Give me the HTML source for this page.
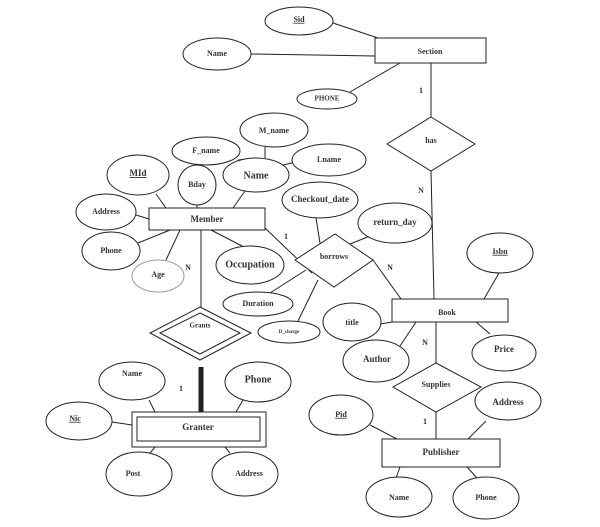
<!DOCTYPE html>
<html><head><meta charset="utf-8"><style>
html,body{margin:0;padding:0;background:#fff;}
svg{display:block;}
text{font-family:"Liberation Serif",serif;font-weight:bold;fill:#333;text-anchor:middle;dominant-baseline:middle;}
</style></head><body>
<svg width="600" height="527" viewBox="0 0 600 527" xmlns="http://www.w3.org/2000/svg">
<g stroke="#222" stroke-width="1" fill="none">
<line x1="333" y1="23" x2="378" y2="38"/>
<line x1="251" y1="54" x2="375" y2="56"/>
<line x1="400" y1="63" x2="350" y2="92"/>
<line x1="431" y1="63" x2="431" y2="117"/>
<line x1="431" y1="171" x2="434" y2="299"/>
<line x1="156" y1="194" x2="166" y2="208"/>
<line x1="197" y1="205" x2="197" y2="208"/>
<line x1="245" y1="191" x2="233" y2="208"/>
<line x1="238" y1="160" x2="258" y2="158"/>
<line x1="265" y1="147" x2="265" y2="158"/>
<line x1="292" y1="163" x2="283" y2="165"/>
<line x1="136" y1="215" x2="149" y2="219"/>
<line x1="138" y1="243" x2="170" y2="230"/>
<line x1="166" y1="260" x2="180" y2="230"/>
<line x1="211" y1="230" x2="244" y2="247"/>
<line x1="201" y1="230" x2="201" y2="307"/>
<line x1="265" y1="228" x2="312" y2="273"/>
<line x1="316" y1="218" x2="320" y2="243"/>
<line x1="350" y1="244" x2="370" y2="236"/>
<line x1="306" y1="270" x2="270" y2="293"/>
<line x1="318" y1="280" x2="298" y2="321"/>
<line x1="373" y1="260" x2="401" y2="299"/>
<line x1="499" y1="273" x2="484" y2="299"/>
<line x1="380" y1="324" x2="392" y2="322"/>
<line x1="416" y1="322" x2="400" y2="346"/>
<line x1="476" y1="322" x2="490" y2="334"/>
<line x1="436" y1="322" x2="436" y2="363"/>
<line x1="436" y1="412" x2="436" y2="439"/>
<line x1="370" y1="425" x2="397" y2="439"/>
<line x1="486" y1="421" x2="468" y2="439"/>
<line x1="400" y1="467" x2="396" y2="478"/>
<line x1="467" y1="467" x2="477" y2="478"/>
<line x1="149" y1="400" x2="155" y2="412"/>
<line x1="243" y1="400" x2="236" y2="412"/>
<line x1="112" y1="422" x2="132" y2="425"/>
<line x1="155" y1="447" x2="150" y2="453"/>
<line x1="225" y1="447" x2="230" y2="453"/>
<line x1="201" y1="367" x2="201" y2="412" stroke-width="5"/>
<g fill="#fff">
<ellipse cx="299" cy="21" rx="34" ry="14"/>
<ellipse cx="217" cy="54" rx="34" ry="16"/>
<ellipse cx="327" cy="99" rx="30" ry="10"/>
<ellipse cx="274" cy="130" rx="34" ry="17"/>
<ellipse cx="206" cy="151" rx="34" ry="14"/>
<ellipse cx="329" cy="160" rx="37" ry="16"/>
<ellipse cx="256" cy="175" rx="33" ry="17"/>
<ellipse cx="197" cy="185" rx="19" ry="20"/>
<ellipse cx="138" cy="175" rx="31" ry="20"/>
<ellipse cx="106" cy="212" rx="30" ry="18"/>
<ellipse cx="111" cy="251" rx="29" ry="19"/>
<ellipse cx="158" cy="276" rx="26" ry="16" stroke="#999"/>
<ellipse cx="250" cy="265" rx="34" ry="19"/>
<ellipse cx="320" cy="200" rx="38" ry="18"/>
<ellipse cx="395" cy="223" rx="37" ry="20"/>
<ellipse cx="258" cy="304" rx="35" ry="12"/>
<ellipse cx="289" cy="332" rx="31" ry="11"/>
<ellipse cx="500" cy="253" rx="33" ry="20"/>
<ellipse cx="352" cy="322" rx="29" ry="19"/>
<ellipse cx="376" cy="361" rx="33" ry="21"/>
<ellipse cx="504" cy="353" rx="32" ry="18"/>
<ellipse cx="508" cy="401" rx="33" ry="19"/>
<ellipse cx="341" cy="415" rx="32" ry="20"/>
<ellipse cx="399" cy="497" rx="33" ry="20"/>
<ellipse cx="486" cy="498" rx="33" ry="21"/>
<ellipse cx="132" cy="381" rx="33" ry="19"/>
<ellipse cx="258" cy="382" rx="33" ry="20"/>
<ellipse cx="79" cy="421" rx="33" ry="19"/>
<ellipse cx="139" cy="474" rx="33" ry="22"/>
<ellipse cx="245" cy="474" rx="33" ry="22"/>
<rect x="375" y="38" width="111" height="25"/>
<rect x="149" y="208" width="116" height="22"/>
<rect x="392" y="299" width="116" height="23"/>
<rect x="382" y="439" width="118" height="28"/>
<rect x="132" y="412" width="134" height="35"/>
<rect x="137" y="417" width="123" height="24"/>
<polygon points="431,117 475,144 431,171 387,144"/>
<polygon points="335,234 373,260 334,287 295,260"/>
<polygon points="436,363 481,387 436,412 393,387"/>
<polygon points="200,307 251,333 200,360 150,333"/>
<polygon points="200,313 240,333 200,354 160,333"/>
</g>
</g>
<g font-size="8">
<text x="299" y="20" text-decoration="underline">Sid</text>
<text x="217" y="54" font-weight="normal">Name</text>
<text x="327" y="99" font-family="Liberation Sans" font-size="7">PHONE</text>
<text x="430" y="52">Section</text>
<text x="421" y="91">1</text>
<text x="431" y="141">has</text>
<text x="421" y="191">N</text>
<text x="274" y="131">M_name</text>
<text x="206" y="151">F_name</text>
<text x="329" y="160">Lname</text>
<text x="256" y="176" font-size="10" font-weight="normal">Name</text>
<text x="197" y="185">Bday</text>
<text x="138" y="174" font-size="9" text-decoration="underline">MId</text>
<text x="106" y="212">Address</text>
<text x="207" y="220" font-size="9">Member</text>
<text x="111" y="251">Phone</text>
<text x="158" y="275" font-family="Liberation Sans" font-size="8">Age</text>
<text x="250" y="265" font-size="10" font-weight="normal">Occupation</text>
<text x="320" y="200" font-size="9">Checkout_date</text>
<text x="395" y="223" font-size="9">return_day</text>
<text x="334" y="257">borrows</text>
<text x="286" y="237">1</text>
<text x="390" y="268">N</text>
<text x="188" y="268">N</text>
<text x="258" y="304" font-family="Liberation Sans">Duration</text>
<text x="289" y="332" font-size="5" font-family="Liberation Sans">D_charge</text>
<text x="500" y="252" text-decoration="underline">Isbn</text>
<text x="352" y="323">title</text>
<text x="447" y="313">Book</text>
<text x="377" y="360" font-size="9">Author</text>
<text x="504" y="350" font-size="9">Price</text>
<text x="436" y="385">Supplies</text>
<text x="425" y="343">N</text>
<text x="425" y="422">1</text>
<text x="508" y="403" font-size="9">Address</text>
<text x="341" y="415" text-decoration="underline">Pid</text>
<text x="441" y="453" font-size="9">Publisher</text>
<text x="399" y="498">Name</text>
<text x="486" y="498">Phone</text>
<text x="200" y="326" font-size="7">Grants</text>
<text x="181" y="389">1</text>
<text x="132" y="374">Name</text>
<text x="258" y="380" font-size="10" font-weight="normal">Phone</text>
<text x="75" y="419" text-decoration="underline" font-weight="normal">Nic</text>
<text x="198" y="428" font-size="9">Granter</text>
<text x="133" y="474">Post</text>
<text x="249" y="474">Address</text>
</g>
</svg>
</body></html>
